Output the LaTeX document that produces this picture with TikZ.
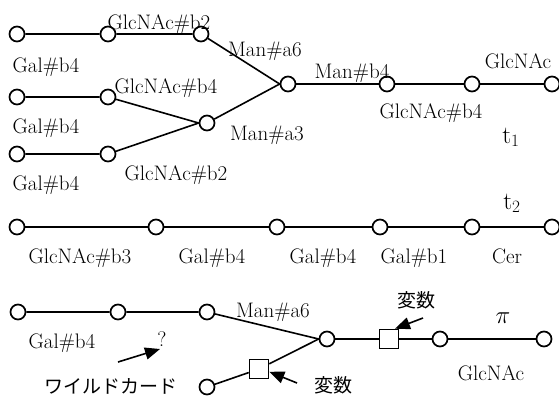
\documentclass[tikz,border=0pt]{standalone}
\usepackage{fontspec}
\newfontfamily\cjk{Noto Sans CJK JP}
\usetikzlibrary{arrows.meta}
\begin{document}
\begin{tikzpicture}[x=1pt,y=-1pt,
  site/.style={circle, draw, line width=1.7pt, minimum size=15pt, inner sep=0pt},
  var/.style={rectangle, draw, line width=1.6pt, minimum size=19pt, inner sep=0pt},
  lbl/.style={anchor=base, inner sep=0pt, font=\fontsize{21}{25}\selectfont},
  tlbl/.style={anchor=base, inner sep=0pt, font=\fontsize{25}{30}\selectfont},
  jlbl/.style={anchor=center, inner sep=0pt, font=\cjk\fontsize{19}{22}\selectfont},
  bond/.style={line width=1.6pt},
  ptr/.style={line width=1.6pt, -{Triangle[length=15pt,width=12pt]}}]
\useasboundingbox (0,0) rectangle (559,397);

% ---- branched glycan t1 ----
\node[site] (a1) at (17,34) {};
\node[site] (a2) at (108,34) {};
\node[site] (a3) at (201,34) {};
\node[site] (b1) at (17,97) {};
\node[site] (b2) at (108,97) {};
\node[site] (c1) at (17,154) {};
\node[site] (c2) at (108,154) {};
\node[site] (m3) at (207,123) {};
\node[site] (j)  at (288,84) {};
\node[site] (k)  at (387,84) {};
\node[site] (l)  at (472,84) {};
\node[site] (r)  at (552,84) {};

\draw[bond] (a1) -- (a2) -- (a3) -- (j.west);
\draw[bond] (b1) -- (b2) -- (m3.west);
\draw[bond] (c1) -- (c2) -- (m3.west);
\draw[bond] (m3) -- (j.west);
\draw[bond] (j) -- (k) -- (l) -- (r);

\node[lbl] (la1) at (159,29)  {GlcNAc\#b2};
\node[lbl] (la2) at (46,72)   {Gal\#b4};
\node[lbl] (lb1) at (166,93)  {GlcNAc\#b4};
\node[lbl] (lb2) at (46,133)  {Gal\#b4};
\node[lbl] (lc1) at (46,190)  {Gal\#b4};
\node[lbl] (lc2) at (176,180) {GlcNAc\#b2};
\node[lbl] (lj1) at (265,56)  {Man\#a6};
\node[lbl] (lm3) at (267,140) {Man\#a3};
\node[lbl] (lk)  at (352,78)  {Man\#b4};
\node[lbl] (ll)  at (431,118) {GlcNAc\#b4};
\node[lbl] (lr)  at (518,68)  {GlcNAc};
\node[tlbl] (t1) at (511,143) {$\mathrm{t}_{1}$};

% ---- linear chain t2 ----
\node[site] (p1) at (17,227) {};
\node[site] (p2) at (156,227) {};
\node[site] (p3) at (277,227) {};
\node[site] (p4) at (380,227) {};
\node[site] (p5) at (472,227) {};
\node[site] (p6) at (552,227) {};
\draw[bond] (p1) -- (p2) -- (p3) -- (p4) -- (p5) -- (p6);

\node[lbl] (lp1) at (80,263)  {GlcNAc\#b3};
\node[lbl] (lp2) at (212,263) {Gal\#b4};
\node[lbl] (lp3) at (323,263) {Gal\#b4};
\node[lbl] (lp4) at (414,263) {Gal\#b1};
\node[lbl] (lp5) at (507,263) {Cer};
\node[tlbl] (t2) at (512,209) {$\mathrm{t}_{2}$};

% ---- pattern pi with wildcard and variables ----
\node[site] (d1) at (18,312) {};
\node[site] (d2) at (118,312) {};
\node[site] (d3) at (207,312) {};
\node[site] (w)  at (207,387) {};
\node[var]  (s2) at (259,369) {};
\node[site] (q)  at (327,339) {};
\node[var]  (s1) at (389,339) {};
\node[site] (e)  at (440,339) {};
\node[site] (f)  at (544,339) {};

\draw[bond] (d1) -- (d2) -- (d3) -- (q.west);
\draw[bond] (w) -- (s2) -- (q.west);
\draw[bond] (q) -- (s1) -- (e) -- (f);

\node[lbl] (ld1) at (62,348)  {Gal\#b4};
\node[lbl] (lq)  at (273,317) {Man\#a6};
\node[lbl] (lwq) at (162,346) {?};
\node[jlbl] (lw) at (111,386) {ワイルドカード};
\node[jlbl] (lv1) at (416,300) {変数};
\node[jlbl] (lv2) at (333,385) {変数};
\node[tlbl] (pi) at (503,323) {$\pi$};
\node[lbl] (le)  at (491,380) {GlcNAc};

\coordinate (wtail) at (118,362);
\coordinate (wtip)  at (160,349);
\coordinate (v1tail) at (423,318);
\coordinate (v2tail) at (297,383);
\draw[ptr] (wtail) -- (wtip);
\draw[ptr] (v1tail) -- (s1.60);
\draw[ptr] (v2tail) -- (s2.-15);
\end{tikzpicture}
\end{document}
